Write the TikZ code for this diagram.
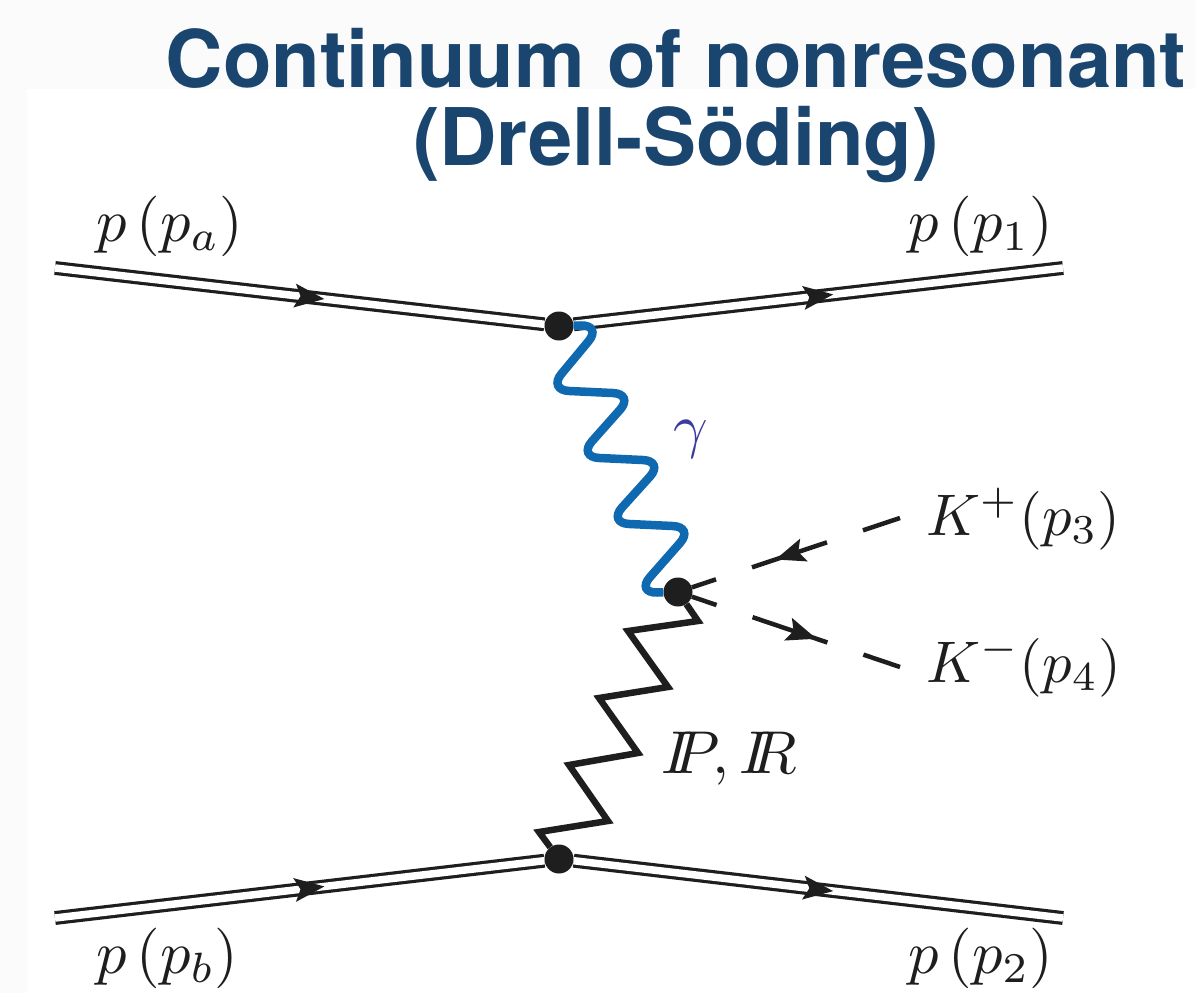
\documentclass[tikz,border=0pt]{standalone}
\usepackage{amsmath,amssymb}
\usepackage{fontspec}
\newfontfamily\headfont{TeX Gyre Heros}
\usepackage{xcolor}
\usepackage{tikz}
\usetikzlibrary{decorations.markings}
\definecolor{headblue}{HTML}{1A456F}
\definecolor{photonblue}{HTML}{0F69B0}
\definecolor{gammablue}{HTML}{3B3BA0}
\definecolor{inkgrey}{HTML}{1E1E1E}
\tikzset{
  vtx/.style={circle,fill=inkgrey,inner sep=0pt,minimum size=29pt},
  lbl/.style={anchor=base west,text=inkgrey,inner sep=0pt,scale=6.05},
  midtip/.style={postaction={decorate,decoration={markings,mark=at position #1 with {\fill[inkgrey,draw=none] (15,0) -- (-15,12) -- (-9,0) -- (-15,-12) -- cycle;}}}},
  proton/.style={draw=inkgrey,line width=3.2pt,double=white,double distance=7.5pt,midtip=#1},
  kaon/.style={draw=inkgrey,line width=4.5pt,midtip=#1}
}
\begin{document}
\begin{tikzpicture}[x=1pt,y=-1pt]
  \useasboundingbox (0,0) rectangle (1195,993);
  \fill[white!98.5!black] (0,0) rectangle (1195,993);
  \fill[white] (27,89) rectangle (1195,993);
  % vertices
  \node[vtx] (vtxTop) at (559,326) {};
  \node[vtx] (vtxMid) at (678,592) {};
  \node[vtx] (vtxBot) at (559,859) {};
  \coordinate (inA) at (55,268);
  \coordinate (outA) at (1063,268);
  \coordinate (inB) at (55,918);
  \coordinate (outB) at (1063,918);
  \coordinate (endKp) at (900,518);
  \coordinate (endKm) at (900,667);
  % protons
  \draw[proton=.52] (inA) -- (vtxTop);
  \draw[proton=.5] (vtxTop) -- (outA);
  \draw[proton=.52] (inB) -- (vtxBot);
  \draw[proton=.5] (vtxBot) -- (outB);
  % kaons
  \draw[kaon=.53,dash pattern=on 79pt off 38pt,dash phase=40pt] (endKp) -- (vtxMid);
  \draw[kaon=.53,dash pattern=on 79pt off 38pt,dash phase=53pt] (vtxMid) -- (endKm);
  % exchanges
  \draw[photonblue,line width=8.5pt,rounded corners=21pt] (vtxTop) -- (602,325) -- (548,390) -- (634,394) -- (578,457) -- (664,461) -- (608,523) -- (694,527) -- (636,593) -- (vtxMid);
  \draw[inkgrey,line width=6.5pt,line join=miter] (vtxMid) -- (698,621) -- (628,631) -- (668,687) -- (599,698) -- (638,753) -- (569,765) -- (608,821) -- (539,832) -- (vtxBot);
  % labels
  \node[lbl] (lblA) at (95,241) {$p\,(p_a)$};
  \node[lbl] (lblOne) at (907,241) {$p\,(p_1)$};
  \node[lbl] (lblB) at (95,973) {$p\,(p_b)$};
  \node[lbl] (lblTwo) at (907,973) {$p\,(p_2)$};
  \node[lbl,scale=.97] (lblKp) at (925,535) {$K^+(p_3)$};
  \node[lbl,scale=.97] (lblKm) at (925,682) {$K^-(p_4)$};
  \node[lbl] (lblPom) at (660,773) {$I\!\!P,I\!\!R$};
  \node[lbl,text=gammablue] (lblGamma) at (672,446) {$\gamma$};
  \node[anchor=base,text=headblue,inner sep=0pt,align=center,font=\headfont\bfseries\fontsize{79.5}{78}\selectfont] (title) at (676,165) {Continuum of nonresonant\\(Drell-Söding)};
\end{tikzpicture}
\end{document}
